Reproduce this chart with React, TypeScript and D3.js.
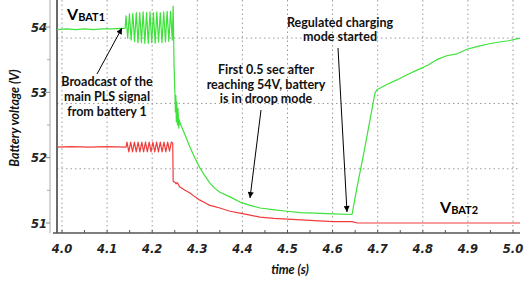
import React from "react";
import * as d3 from "d3";

// ---------- data ----------
const xTicks = [4.0, 4.1, 4.2, 4.3, 4.4, 4.5, 4.6, 4.7, 4.8, 4.9, 5.0];
const xTickLabels = ["4.0", "4.1", "4.2", "4.3", "4.4", "4.5", "4.6", "4.7", "4.8", "4.9", "5.0"];
const xMinorTicks = [4.05, 4.15, 4.25, 4.35, 4.45, 4.55, 4.65, 4.75, 4.85, 4.95];
const yTicks = [51, 52, 53, 54];
const yMinorTicks = [51.5, 52.5, 53.5];
const yGrid = [51.83, 52.83, 53.83];

const vbat1T = [
  3.989, 4.01, 4.03, 4.05, 4.07, 4.09, 4.11, 4.13, 4.14,
  4.1419, 4.1457, 4.1495, 4.1533, 4.1571, 4.1609, 4.1647, 4.1685, 4.1723, 4.1761,
  4.1799, 4.1837, 4.1875, 4.1913, 4.1951, 4.1989, 4.2027, 4.2065, 4.2103, 4.2141,
  4.2179, 4.2217, 4.2255, 4.2293, 4.2331, 4.2369, 4.2407, 4.2445, 4.2465,
  4.2485, 4.2505, 4.2515, 4.2525, 4.2535, 4.2545, 4.2560, 4.2572, 4.2590, 4.2605,
  4.2616, 4.2727, 4.2838, 4.2949, 4.306, 4.317, 4.328, 4.339, 4.35, 4.3725,
  4.3947, 4.4169, 4.439, 4.472, 4.499, 4.528, 4.561, 4.601, 4.643,
  4.654, 4.67, 4.694, 4.6984, 4.72, 4.7427, 4.765, 4.7871, 4.81, 4.831,
  4.853, 4.876, 4.898, 4.92, 4.945, 4.97, 4.99, 5.0155,
];
const vbat1V = [
  53.96, 53.97, 53.96, 53.97, 53.96, 53.97, 53.97, 53.98, 53.98,
  54.17, 53.83, 54.2, 53.8, 54.21, 53.78, 54.22, 53.76, 54.22, 53.76,
  54.23, 53.75, 54.22, 53.75, 54.23, 53.76, 54.22, 53.75, 54.23, 53.77,
  54.22, 53.76, 54.23, 53.77, 54.24, 53.78, 54.24, 53.8, 54.32,
  53.4, 52.95, 52.7, 52.95, 52.55, 52.85, 52.5, 52.75, 52.45, 52.58,
  52.53, 52.35, 52.16, 51.99, 51.84, 51.72, 51.61, 51.53, 51.47, 51.4,
  51.32, 51.27, 51.23, 51.2, 51.18, 51.16, 51.15, 51.14, 51.13,
  51.54, 52.1, 52.99, 53.04, 53.12, 53.19, 53.27, 53.34, 53.41, 53.5,
  53.56, 53.59, 53.66, 53.7, 53.74, 53.77, 53.79, 53.83,
];

const vbat2T = [
  3.989, 4.02, 4.06, 4.1, 4.142,
  4.1441, 4.1482, 4.1523, 4.1564, 4.1605, 4.1646, 4.1687, 4.1728, 4.1769, 4.181,
  4.1851, 4.1892, 4.1933, 4.1974, 4.2015, 4.2056, 4.2097, 4.2138, 4.2179, 4.222,
  4.2261, 4.2302, 4.2343, 4.2384, 4.2425, 4.2455,
  4.2465, 4.248, 4.251, 4.253, 4.255, 4.258,
  4.2616, 4.2727, 4.2838, 4.2949, 4.306, 4.317, 4.328, 4.339, 4.35, 4.3725,
  4.3947, 4.4169, 4.439, 4.47, 4.499, 4.55, 4.601, 4.643, 4.655,
  4.75, 4.85, 4.95, 5.0155,
];
const vbat2V = [
  52.16, 52.17, 52.16, 52.17, 52.16,
  52.24, 52.09, 52.24, 52.09, 52.24, 52.09, 52.24, 52.09, 52.24, 52.09,
  52.24, 52.09, 52.24, 52.09, 52.24, 52.09, 52.24, 52.09, 52.24, 52.09,
  52.24, 52.09, 52.24, 52.1, 52.24, 52.22,
  51.64, 51.63, 51.62, 51.6, 51.62, 51.59,
  51.55, 51.5, 51.46, 51.4, 51.35, 51.31, 51.27, 51.25, 51.23, 51.18,
  51.15, 51.12, 51.09, 51.07, 51.06, 51.04, 51.02, 51.02, 51.0,
  51.0, 51.0, 51.0, 51.0,
];

// ---------- component ----------
export default function App() {
  const W = 531;
  const H = 282;
  const x = d3.scaleLinear().domain([4.0, 5.0]).range([62, 513]);
  const y = d3.scaleLinear().domain([51, 54]).range([223, 27]);
  const xLeft = 57;
  const xRight = 520;
  const yTop = 0;
  const yBottom = 233;

  const line = d3
    .line<[number, number]>()
    .x((d) => x(d[0]))
    .y((d) => y(d[1]));

  const green = line(vbat1T.map((t, i) => [t, vbat1V[i]]) as [number, number][]) || "";
  const red = line(vbat2T.map((t, i) => [t, vbat2V[i]]) as [number, number][]) || "";

  const tickFont = "'DejaVu Sans', Verdana, sans-serif";
  const annFont = "Lato, 'Open Sans', sans-serif";

  return (
    <svg
      width={W}
      height={H}
      style={{ position: "absolute", left: 0, top: 0, background: "#fff" }}
    >
      <defs>
        <marker
          id="ah"
          viewBox="0 0 10 10"
          refX="10"
          refY="5"
          markerWidth="9"
          markerHeight="6"
          orient="auto"
          markerUnits="userSpaceOnUse"
        >
          <path d="M0,0 L10,5 L0,10 z" fill="#000" />
        </marker>
      </defs>

      {/* grid */}
      {xTicks.map((t) => (
        <line
          key={"gx" + t}
          x1={x(t)}
          x2={x(t)}
          y1={yTop}
          y2={yBottom}
          stroke="#9a9a9a"
          strokeWidth={1}
          strokeDasharray="1.5,3"
        />
      ))}
      {yGrid.map((v) => (
        <line
          key={"gy" + v}
          x1={xLeft}
          x2={xRight}
          y1={y(v)}
          y2={y(v)}
          stroke="#9a9a9a"
          strokeWidth={1}
          strokeDasharray="1.5,3"
        />
      ))}

      {/* axes */}
      <line x1={50} x2={50} y1={yTop} y2={yBottom} stroke="#aaa" strokeWidth={1} />
      {yTicks.map((v) => (
        <line key={"yt" + v} x1={46} x2={50} y1={y(v)} y2={y(v)} stroke="#888" />
      ))}
      {yMinorTicks.map((v) => (
        <line key={"ym" + v} x1={47} x2={50} y1={y(v)} y2={y(v)} stroke="#aaa" />
      ))}
      <line x1={xLeft} x2={xLeft} y1={yTop} y2={yBottom} stroke="#444" strokeWidth={1.6} />
      <line x1={53} x2={xRight} y1={yBottom} y2={yBottom} stroke="#555" strokeWidth={1.5} />
      {xTicks.concat(xMinorTicks).map((t) => (
        <line
          key={"xt" + t}
          x1={x(t)}
          x2={x(t)}
          y1={yBottom}
          y2={yBottom - 3}
          stroke="#555"
          strokeWidth={1}
        />
      ))}

      {/* tick labels */}
      {xTicks.map((t, i) => (
        <text
          key={"xl" + t}
          x={x(t)}
          y={253}
          textAnchor="middle"
          fontFamily={tickFont}
          fontWeight="bold"
          fontStyle="italic"
          fontSize={11.5}
          fill="#222"
        >
          {xTickLabels[i]}
        </text>
      ))}
      {yTicks.map((v) => (
        <text
          key={"yl" + v}
          x={47}
          y={y(v) + 4.5}
          textAnchor="end"
          fontFamily={tickFont}
          fontWeight="bold"
          fontStyle="italic"
          fontSize={11.5}
          fill="#222"
        >
          {String(v)}
        </text>
      ))}

      {/* axis titles */}
      <text
        x={290}
        y={274}
        textAnchor="middle"
        fontFamily={annFont}
        fontWeight="bold"
        fontStyle="italic"
        fontSize={12.5}
        fill="#111"
      >
        time (s)
      </text>
      <text
        transform="translate(19,118) rotate(-90)"
        textAnchor="middle"
        fontFamily={annFont}
        fontWeight="bold"
        fontStyle="italic"
        fontSize={12.5}
        fill="#111"
      >
        Battery voltage (V)
      </text>

      {/* data */}
      <path d={red} fill="none" stroke="#f23c3c" strokeWidth={1.2} strokeLinejoin="round" />
      <path d={green} fill="none" stroke="#3de23a" strokeWidth={1.2} strokeLinejoin="round" />

      {/* annotations */}
      <text x={67} y={20} fontFamily={annFont} fontWeight="bold" fill="#000">
        <tspan fontSize={16}>V</tspan>
        <tspan fontSize={11} dy={1}>BAT1</tspan>
      </text>
      <text x={440} y={213} fontFamily={annFont} fontWeight="bold" fill="#000">
        <tspan fontSize={16}>V</tspan>
        <tspan fontSize={11} dy={1}>BAT2</tspan>
      </text>

      <g fontFamily={annFont} fontWeight="bold" fontSize={12.5} fill="#111" textAnchor="middle">
        <text x={107} y={86}>Broadcast of the</text>
        <text x={107} y={101}>main PLS signal</text>
        <text x={107} y={116}>from battery 1</text>

        <text x={266} y={74}>First 0.5 sec after</text>
        <text x={266} y={88.5}>reaching 54V, battery</text>
        <text x={266} y={103}>is in droop mode</text>

        <text x={340} y={27}>Regulated charging</text>
        <text x={340} y={41}>mode started</text>
      </g>

      <line x1={97} y1={74} x2={122} y2={28} stroke="#000" strokeWidth={1} markerEnd="url(#ah)" />
      <line x1={261} y1={110} x2={250} y2={198} stroke="#000" strokeWidth={1} markerEnd="url(#ah)" />
      <line x1={338} y1={48} x2={347} y2={212} stroke="#000" strokeWidth={1} markerEnd="url(#ah)" />
    </svg>
  );
}
